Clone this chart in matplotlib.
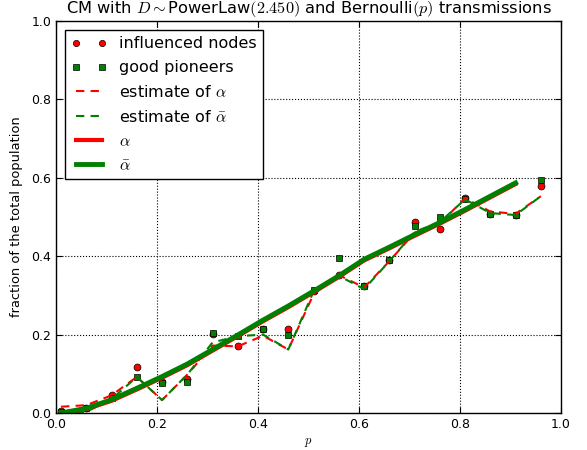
import matplotlib
matplotlib.use("Agg")
import matplotlib.pyplot as plt

p_points = [0.01, 0.06, 0.11, 0.16, 0.21, 0.26, 0.31, 0.36, 0.41, 0.46,
            0.51, 0.56, 0.61, 0.66, 0.71, 0.76, 0.81, 0.86, 0.91, 0.96]
influenced = [0.005, 0.013, 0.047, 0.117, 0.080, 0.088, 0.202, 0.170, 0.215, 0.215,
              0.310, 0.352, 0.325, 0.390, 0.488, 0.470, 0.548, 0.508, 0.505, 0.578]
pioneers = [0.003, 0.012, 0.037, 0.092, 0.077, 0.080, 0.205, 0.196, 0.215, 0.198,
            0.314, 0.395, 0.325, 0.390, 0.478, 0.500, 0.545, 0.508, 0.505, 0.595]
est_alpha = [0.016, 0.020, 0.045, 0.092, 0.033, 0.098, 0.172, 0.170, 0.197, 0.162,
             0.303, 0.352, 0.320, 0.387, 0.460, 0.483, 0.548, 0.514, 0.508, 0.553]
est_alphabar = [0.000, 0.003, 0.035, 0.092, 0.033, 0.098, 0.180, 0.196, 0.200, 0.162,
                0.310, 0.350, 0.316, 0.387, 0.462, 0.487, 0.545, 0.510, 0.505, 0.553]

p_theory = [0.01, 0.06, 0.11, 0.16, 0.21, 0.26, 0.31, 0.36, 0.41, 0.46,
            0.51, 0.56, 0.61, 0.66, 0.71, 0.76, 0.81, 0.86, 0.91]
alpha = [0.000, 0.010, 0.031, 0.060, 0.090, 0.122, 0.159, 0.196, 0.234, 0.270,
         0.308, 0.347, 0.389, 0.420, 0.452, 0.483, 0.516, 0.550, 0.584]
alphabar = [0.000, 0.012, 0.034, 0.063, 0.093, 0.125, 0.162, 0.199, 0.237, 0.273,
            0.311, 0.350, 0.392, 0.423, 0.455, 0.486, 0.519, 0.553, 0.587]

plt.rcParams['mathtext.fontset'] = 'cm'
plt.rcParams['font.family'] = 'DejaVu Sans'

fig = plt.figure(figsize=(5.87, 4.5), dpi=100, facecolor='white')
ax = fig.add_axes([56/587, 1 - 413/450, (561 - 56)/587, (413 - 21)/450])

ax.plot(p_points, influenced, 'o', color='red', markersize=5, markeredgecolor='black',
        markeredgewidth=0.5, label='influenced nodes')
ax.plot(p_points, pioneers, 's', color='green', markersize=5, markeredgecolor='black',
        markeredgewidth=0.5, label='good pioneers')
ax.plot(p_points, est_alpha, '--', color='red', lw=1.5, dashes=(4, 3), label=r'estimate of $\alpha$')
ax.plot(p_points, est_alphabar, '--', color='green', lw=1.5, dashes=(4, 3), label=r'estimate of $\bar{\alpha}$')
ax.plot(p_theory, alpha, '-', color='red', lw=3, label=r'$\alpha$')
ax.plot(p_theory, alphabar, '-', color='green', lw=3.5, label=r'$\bar{\alpha}$')

ax.set_xlim(0, 1)
ax.set_ylim(0, 1)
ax.set_xticks([0.0, 0.2, 0.4, 0.6, 0.8, 1.0])
ax.set_yticks([0.0, 0.2, 0.4, 0.6, 0.8, 1.0])
ax.tick_params(direction='in', labelsize=9, length=4, top=True, right=True)
ax.grid(True, linestyle=':', color='black', linewidth=0.8)
for s in ax.spines.values():
    s.set_linewidth(1.0)

ax.set_title(r'CM with $D\sim$PowerLaw$(2.450)$ and Bernoulli$(p)$ transmissions', fontsize=11.7)
ax.set_xlabel(r'$p$', fontsize=9)
ax.set_ylabel('fraction of the total population', fontsize=9.4, labelpad=6)

leg = ax.legend(loc='upper left', numpoints=2, fontsize=11.5, fancybox=False,
                framealpha=1, edgecolor='black', handlelength=2.2, borderaxespad=0.55,
                labelspacing=0.56, markerscale=0.9)
leg.get_frame().set_linewidth(1.0)

fig.savefig('out.png', dpi=100, facecolor='white')
